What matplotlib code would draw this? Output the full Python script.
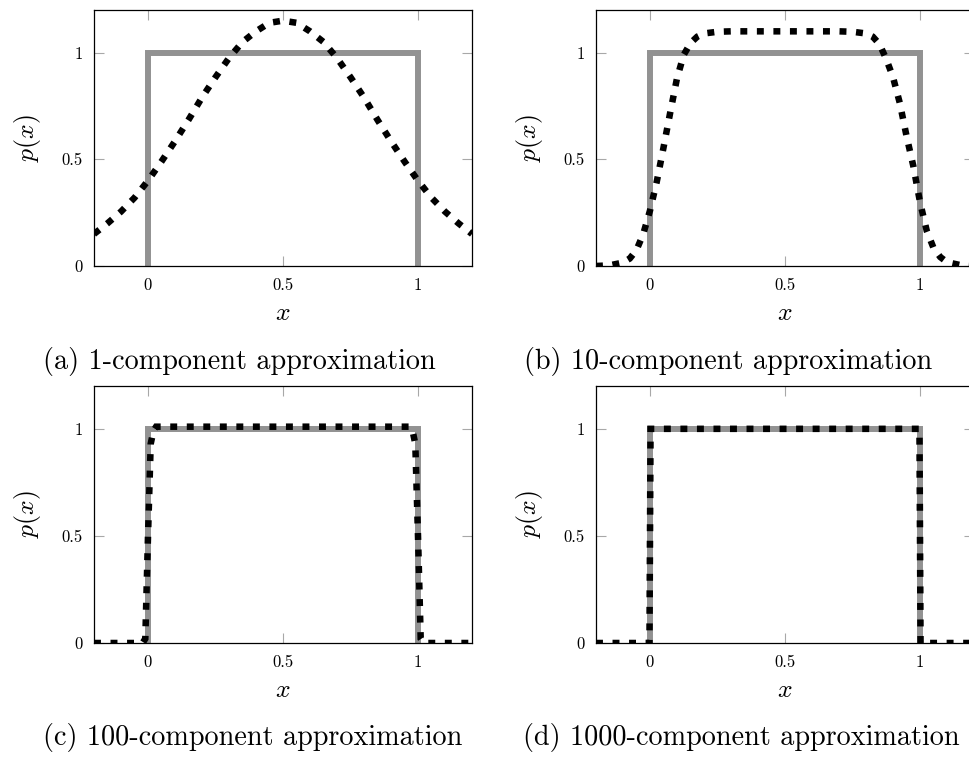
import matplotlib
matplotlib.use("Agg")
import matplotlib.pyplot as plt

plt.rcParams["font.family"] = "serif"
plt.rcParams["font.serif"] = ["cmr10"]
plt.rcParams["mathtext.fontset"] = "cm"
plt.rcParams["axes.formatter.use_mathtext"] = True
plt.rcParams["lines.scale_dashes"] = False

# target density: uniform on [0, 1]
uniform_x = [0.0, 0.0, 1.0, 1.0]
uniform_y = [0.0, 1.0, 1.0, 0.0]

# 1-component mixture
x_1 = [-0.20, -0.15, -0.10, -0.05, 0.00, 0.05, 0.10, 0.15, 0.20, 0.25,
       0.30, 0.35, 0.40, 0.45, 0.50, 0.55, 0.60, 0.65, 0.70, 0.75,
       0.80, 0.85, 0.90, 0.95, 1.00, 1.05, 1.10, 1.15, 1.20]
p_1 = [0.15, 0.20, 0.255, 0.32, 0.40, 0.49, 0.585, 0.685, 0.79, 0.885,
       0.975, 1.05, 1.10, 1.14, 1.15, 1.14, 1.10, 1.05, 0.975, 0.885,
       0.79, 0.685, 0.585, 0.49, 0.40, 0.32, 0.255, 0.20, 0.15]

# 10-component mixture
x_10 = [-0.2, -0.15, -0.1, -0.075, -0.05, -0.025, 0.0, 0.025, 0.05, 0.075,
        0.1, 0.125, 0.15, 0.175, 0.2, 0.25, 0.3, 0.4, 0.5, 0.6,
        0.7, 0.75, 0.8, 0.825, 0.85, 0.875, 0.9, 0.925, 0.95, 0.975,
        1.0, 1.025, 1.05, 1.075, 1.1, 1.15, 1.2]
p_10 = [0.0, 0.003, 0.016, 0.035, 0.075, 0.15, 0.26, 0.395, 0.555, 0.72,
        0.88, 0.99, 1.045, 1.075, 1.09, 1.098, 1.10, 1.10, 1.10, 1.10,
        1.10, 1.098, 1.09, 1.075, 1.04, 0.97, 0.885, 0.765, 0.61, 0.47,
        0.30, 0.165, 0.085, 0.042, 0.018, 0.004, 0.0]

# 100-component mixture
x_100 = [-0.2, -0.02, -0.01, 0.0, 0.01, 0.02, 0.03, 0.5,
         0.97, 0.98, 0.99, 1.0, 1.01, 1.02, 1.2]
p_100 = [0.0, 0.0, 0.02, 0.5, 0.93, 0.99, 1.01, 1.01,
         1.01, 0.99, 0.93, 0.5, 0.02, 0.0, 0.0]

# 1000-component mixture
x_1000 = [-0.2, -0.002, 0.0, 0.002, 0.5, 0.998, 1.0, 1.002, 1.2]
p_1000 = [0.0, 0.0, 0.5, 1.0, 1.0, 1.0, 0.5, 0.0, 0.0]

captions = ["(a) 1-component approximation", "(b) 10-component approximation",
            "(c) 100-component approximation", "(d) 1000-component approximation"]

W, H = 969, 759
fig = plt.figure(figsize=(W / 100, H / 100), dpi=100)


def px_axes(left, top, width, height):
    return fig.add_axes([left / W, 1 - (top + height) / H, width / W, height / H])


panels = [
    (px_axes(94, 10, 378, 256), x_1, p_1),
    (px_axes(596, 10, 378, 256), x_10, p_10),
    (px_axes(94, 386, 378, 257), x_100, p_100),
    (px_axes(596, 386, 378, 257), x_1000, p_1000),
]

for ax, xs, ps in panels:
    ax.plot(uniform_x, uniform_y, color="#929292", lw=4.3,
            solid_joinstyle="miter", solid_capstyle="butt", zorder=2)
    ax.plot(xs, ps, color="black", lw=4.7, dashes=(5.0, 6.9),
            dash_capstyle="butt", dash_joinstyle="miter", zorder=3)
    ax.set_xlim(-0.2, 1.2)
    ax.set_ylim(0, 1.2)
    ax.set_xticks([0, 0.5, 1], labels=["0", "0.5", "1"])
    ax.set_yticks([0, 0.5, 1], labels=["0", "0.5", "1"])
    ax.tick_params(direction="in", top=True, right=True, length=7,
                   width=0.8, color="#a8a8a8", labelsize=12)
    ax.tick_params(axis="x", pad=8.5)
    ax.tick_params(axis="y", pad=8)
    for sp in ax.spines.values():
        sp.set_linewidth(0.9)
        sp.set_zorder(4)
    ax.set_xlabel("$x$", fontsize=18.5)
    ax.xaxis.label.set_va("baseline")
    ax.xaxis.set_label_coords(0.5, -0.209)
    ax.set_ylabel("$p(x)$", fontsize=18.5)
    ax.yaxis.label.set_va("center")
    ax.yaxis.set_label_coords(-0.176, 0.5)

cap_pos = [(43, 361.5), (524, 361.5), (43, 737.5), (523, 737.5)]
for (cx, cy), text in zip(cap_pos, captions):
    fig.text(cx / W, 1 - cy / H, text, fontsize=20.3, ha="left", va="center")

fig.savefig("out.png", dpi=100)
